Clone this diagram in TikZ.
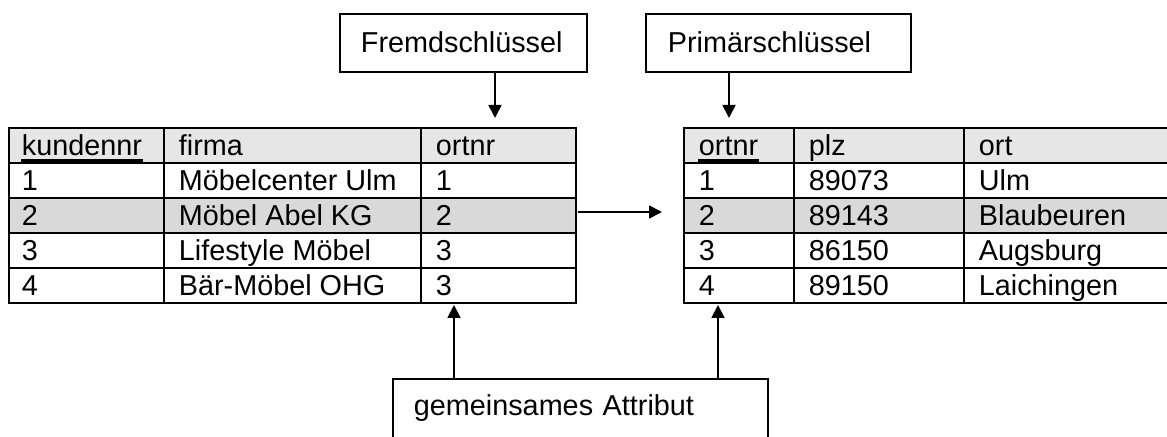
\documentclass[tikz,border=0pt]{standalone}
\usepackage{fontspec}
\setmainfont{Liberation Sans}
\usetikzlibrary{arrows.meta}
\definecolor{hdrgray}{HTML}{E6E6E6}
\definecolor{selgray}{HTML}{D9D9D9}
\tikzset{>={Triangle[length=6.5pt,width=6.5pt]}}
\tikzset{cell/.style={anchor=base west, inner sep=0pt}}
\tikzset{keybox/.style={draw, anchor=north west, inner ysep=0pt, align=left}}
\tikzset{ul/.style={line width=1.2pt}}

\begin{document}
\begin{tikzpicture}[x=0.5pt, y=-0.5pt, line width=0.9pt,
    every node/.style={font=\fontsize{14.4}{17}\selectfont}]
    \clip (0,0) rectangle (1167,437);
    % kunden
    \fill[hdrgray] (9,128) rectangle (576,163);
    \fill[selgray] (9,198) rectangle (576,233);
    \draw (9,128) rectangle (576,303);
    \foreach \y in {163,198,233,268} \draw (9,\y) -- (576,\y);
    \foreach \x in {164,421} \draw (\x,128) -- (\x,303);
    \node[cell] (knr) at (21,156) {kundennr};
    \draw[ul] ([yshift=-2.3pt]knr.base west) -- ([yshift=-2.3pt]knr.base east);
    \node[cell] at (178,156) {firma};
    \node[cell] at (435,156) {ortnr};
    \foreach \y/\a/\b/\c in {191/1/Möbelcenter Ulm/1, 226/2/Möbel Abel KG/2,
        261/3/Lifestyle Möbel/3, 296/4/Bär-Möbel OHG/3}{
        \node[cell] at (21,\y) {\a};
        \node[cell] at (178,\y) {\b};
        \node[cell] at (435,\y) {\c};
    }
    % orte
    \fill[hdrgray] (684,128) rectangle (1175,163);
    \fill[selgray] (684,198) rectangle (1175,233);
    \draw (1175,128) -- (684,128) -- (684,303) -- (1175,303);
    \foreach \y in {163,198,233,268} \draw (684,\y) -- (1175,\y);
    \foreach \x in {794,964} \draw (\x,128) -- (\x,303);
    \node[cell] (onr) at (698,156) {ortnr};
    \draw[ul] ([yshift=-2.3pt]onr.base west) -- ([yshift=-2.3pt]onr.base east);
    \node[cell] at (808,156) {plz};
    \node[cell] at (978,156) {ort};
    \foreach \y/\a/\b/\c in {191/1/89073/Ulm, 226/2/89143/Blaubeuren,
        261/3/86150/Augsburg, 296/4/89150/Laichingen}{
        \node[cell] at (698,\y) {\a};
        \node[cell] at (808,\y) {\b};
        \node[cell] at (978,\y) {\c};
    }
    % Beschriftungen
    \node[keybox, inner xsep=10.5pt, text width=102.5pt, text height=19.5pt, text depth=9.5pt]
        (fremd) at (339,13) {Fremdschlüssel};
    \node[keybox, inner xsep=11pt, text width=110.5pt, text height=19.5pt, text depth=9.5pt]
        (prim) at (645,13) {Primärschlüssel};
    \node[keybox, inner xsep=10.5pt, text width=166.5pt, text height=18.5pt, text depth=15pt]
        (attr) at (392,378) {gemeinsames Attribut};
    \coordinate (fk) at (495,118);
    \coordinate (pk) at (729,118);
    \coordinate (ga) at (454,305);
    \coordinate (gb) at (718,305);
    \coordinate (von) at (578,212);
    \coordinate (nach) at (662,212);
    \draw[->] (fremd.south -| fk) -- (fk);
    \draw[->] (prim.south -| pk) -- (pk);
    \draw[->] (attr.north -| ga) -- (ga);
    \draw[->] (attr.north -| gb) -- (gb);
    \draw[->] (von) -- (nach);
\end{tikzpicture}
\end{document}
